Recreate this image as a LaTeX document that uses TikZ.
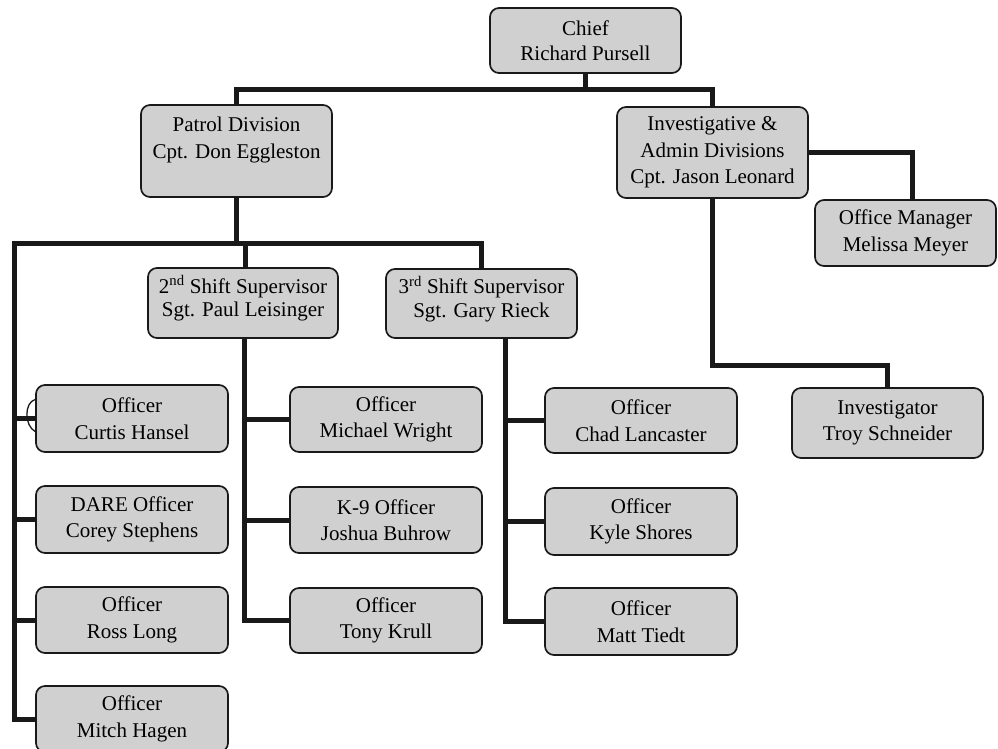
\documentclass[tikz,border=0pt]{standalone}
\usepackage{fontspec}
\setmainfont{Liberation Serif}
\definecolor{boxfill}{RGB}{208,208,208}
\definecolor{ink}{RGB}{25,25,25}
\begin{document}
\begin{tikzpicture}[x=1pt,y={(0pt,-1pt)},
  box/.style={draw=ink, line width=1.7pt, fill=boxfill, rounded corners=9pt,
    align=center, inner sep=0pt, minimum width=191pt, minimum height=66pt,
    font=\fontsize{21}{26.5}\selectfont, text=black},
  conn/.style={draw=ink, line width=5pt}]
\useasboundingbox (0,0) rectangle (998,748);
\begin{scope}
\clip (0,0) rectangle (998,748);
% boxes
\node[box, minimum height=65pt] (chief) at (585.5,40.5) {Chief\\[-2pt]Richard Pursell};
\node[box, minimum height=92pt] (patrol) at (236.5,151) {Patrol Division\\Cpt. Don Eggleston\\\mbox{}};
\node[box, minimum height=91pt] (inv) at (712.5,152.5) {Investigative \&\\Admin Divisions\\Cpt. Jason Leonard};
\node[box, minimum width=181pt] (office) at (905.5,233) {Office Manager\\Melissa Meyer};
\node[box, minimum width=190pt, minimum height=70pt] (shift2) at (243,303) {2\textsuperscript{nd} Shift Supervisor\\[-3pt]Sgt. Paul Leisinger\\[-13pt]\mbox{}};
\node[box, minimum height=69pt] (shift3) at (481.5,303.5) {3\textsuperscript{rd} Shift Supervisor\\[-3pt]Sgt. Gary Rieck\\[-13pt]\mbox{}};
\node[box, minimum height=70pt] (investigator) at (887.5,423) {Investigator\\Troy Schneider};
\node[box, minimum width=192pt, minimum height=67pt] (curtis) at (132,418.5) {Officer\\Curtis Hansel};
\node[box, minimum width=192pt, minimum height=67pt] (corey) at (132,519.5) {DARE Officer\\Corey Stephens};
\node[box, minimum width=192pt] (ross) at (132,620) {Officer\\Ross Long};
\node[box, minimum width=192pt] (mitch) at (132,719) {Officer\\Mitch Hagen};
\node[box, minimum width=192pt, minimum height=65pt] (michael) at (386,419.5) {Officer\\Michael Wright};
\node[box, minimum width=192pt] (k9) at (386,520) {K-9 Officer\\Joshua Buhrow};
\node[box, minimum width=192pt, minimum height=65pt] (tony) at (386,620.5) {Officer\\Tony Krull};
\node[box, minimum width=192pt, minimum height=65pt] (chad) at (641,420.5) {Officer\\Chad Lancaster};
\node[box, minimum width=192pt, minimum height=67pt] (kyle) at (641,521.5) {Officer\\Kyle Shores};
\node[box, minimum width=192pt, minimum height=67pt] (matt) at (641,621.5) {Officer\\Matt Tiedt};
% helper coordinates
\coordinate (tb) at (585.5,89);
\coordinate (pb) at (236.5,243);
\coordinate (lx) at (14,243);
\coordinate (s2b) at ([xshift=1pt]shift2.south);
\coordinate (s3b) at ([xshift=23.5pt]shift3.south);
\coordinate (om) at (912,152.5);
\coordinate (ib) at (712.5,365);
% connectors
\draw[conn] (chief.south) -- (tb);
\draw[conn] (patrol.north) -- (patrol.north |- tb) -- (inv.north |- tb) -- (inv.north);
\draw[conn] (patrol.south) -- (pb);
\draw[conn] (shift3.north) -- (shift3.north |- pb) -- (lx) -- (lx |- mitch.west) -- (mitch.west);
\draw[conn] ([xshift=2pt]shift2.north) -- ([xshift=2pt]shift2.north |- pb);
\draw[conn] (lx |- curtis.west) -- (curtis.west);
\draw[conn] (lx |- corey.west) -- (corey.west);
\draw[conn] (lx |- ross.west) -- (ross.west);
\draw[conn] (s2b) -- (s2b |- tony.west) -- (tony.west);
\draw[conn] (s2b |- michael.west) -- (michael.west);
\draw[conn] (s2b |- k9.west) -- (k9.west);
\draw[conn] (s3b) -- (s3b |- matt.west) -- (matt.west);
\draw[conn] (s3b |- chad.west) -- (chad.west);
\draw[conn] (s3b |- kyle.west) -- (kyle.west);
\draw[conn] (inv.east) -- (om) -- (om |- office.north);
\draw[conn] (inv.south) -- (ib) -- (ib -| investigator.north) -- (investigator.north);
% small arc at the left of Curtis Hansel's box
\draw[ink, line width=1.3pt] ([yshift=-13pt]curtis.west) .. controls ([shift={(-11pt,-7pt)}]curtis.west) and ([shift={(-11pt,16pt)}]curtis.west) .. ([yshift=19pt]curtis.west);
\end{scope}
\end{tikzpicture}
\end{document}
